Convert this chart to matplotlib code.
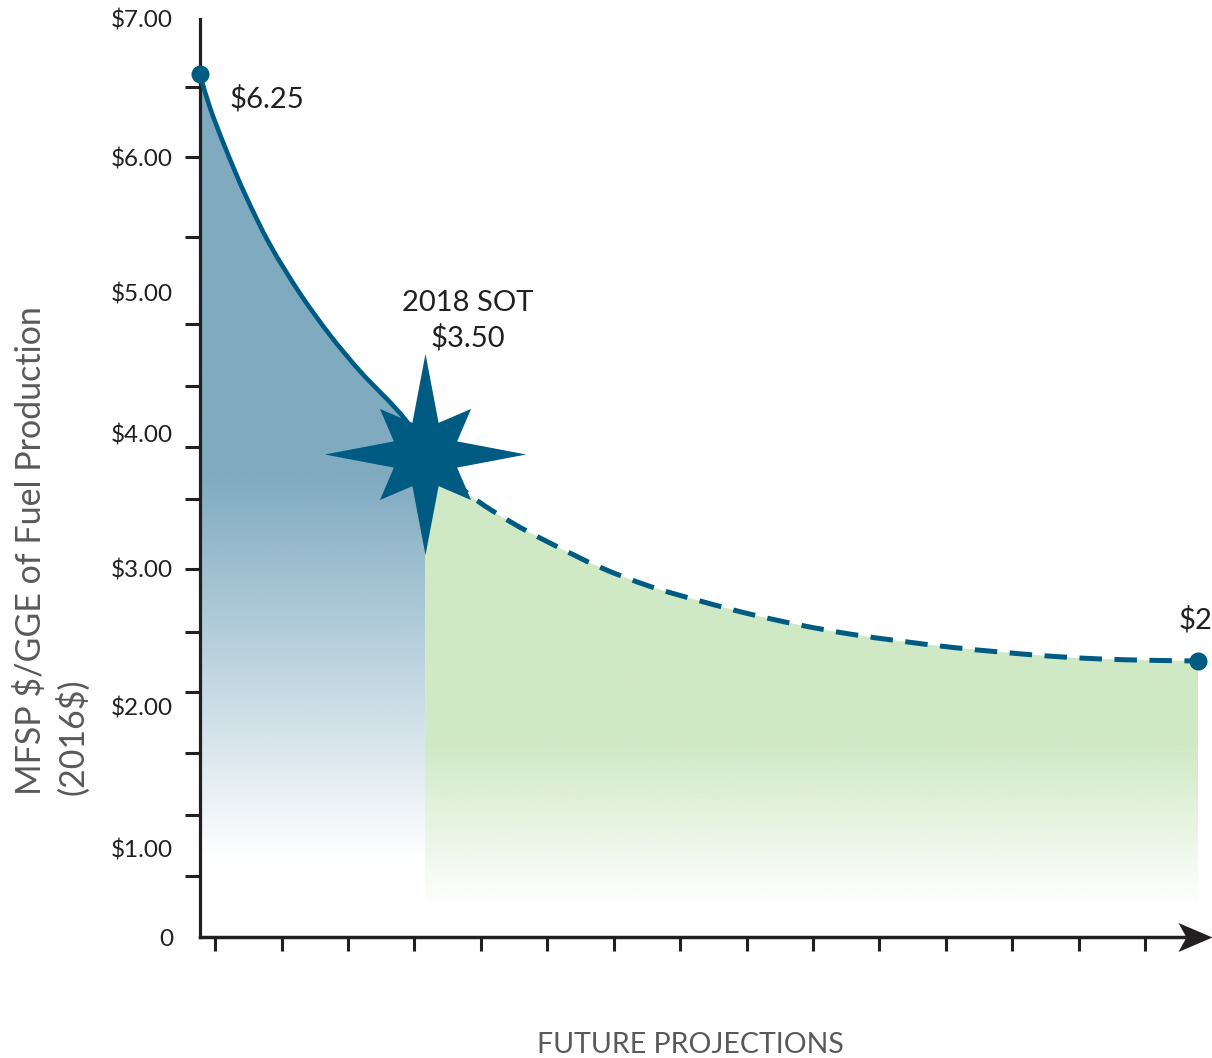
import numpy as np
import matplotlib
matplotlib.use("Agg")
import matplotlib.pyplot as plt
from matplotlib.path import Path
from matplotlib.patches import PathPatch
from matplotlib.colors import to_rgb

plt.rcParams['font.family'] = ['Lato', 'DejaVu Sans']

# Historical cost reduction down to the 2018 state of technology (SOT)
hist_x = [0.0, 0.15, 0.38, 0.68, 1.05, 1.51, 1.96, 2.41, 3.09, 3.39]
hist_y = [6.25, 6.01, 5.72, 5.38, 5.02, 4.66, 4.36, 4.10, 3.75, 3.50]

# Projected cost pathway after the 2018 SOT
proj_x = [3.39, 4.07, 4.67, 5.27, 6.02, 6.78, 7.53, 8.28, 9.04, 9.79,
          10.54, 11.30, 12.05, 12.80, 13.55, 14.31, 15.03]
proj_y = [3.50, 3.20, 3.01, 2.855, 2.68, 2.54, 2.435, 2.34, 2.26, 2.195,
          2.145, 2.10, 2.065, 2.035, 2.015, 2.005, 2.00]

start_label = "$6.25"
sot_label = "2018 SOT\n$3.50"
end_label = "$2"

# Axis decorations
y_tick_labels = ["0", "$1.00", "$2.00", "$3.00", "$4.00", "$5.00", "$6.00", "$7.00"]
y_label_pos = [0.0, 0.64, 1.67, 2.67, 3.65, 4.67, 5.65, 6.652]
y_tick_marks = [0.0, 0.442, 0.884, 1.333, 1.775, 2.210, 2.667, 3.174, 3.551,
                3.993, 4.442, 5.072, 5.652, 6.159, 6.652]
x_tick_marks = [0.23, 1.23, 2.23, 3.23, 4.23, 5.23, 6.23, 7.23, 8.23, 9.23,
                10.23, 11.23, 12.23, 13.23, 14.23]

LINE = '#005B82'
INK = '#231F20'
GREY = '#595959'
BLUE_FILL = '#7FAAC0'
GREEN_FILL = '#D0E9C5'

W, H = 1212, 1058
fig = plt.figure(figsize=(W / 100, H / 100), dpi=100)
ax = fig.add_axes([200 / W, 121 / H, 1012 / W, 918 / H])
XMAX, YMAX = 15.24, 6.652
SX, SY = 1012 / XMAX, 918 / YMAX   # pixels per data unit


def smooth_segments(x, y):
    """Cubic Bezier vertices running smoothly through the given points."""
    p = np.column_stack([np.asarray(x) * SX, np.asarray(y) * SY])
    n = len(p)
    tang = np.zeros_like(p)
    for i in range(n):
        a = p[max(i - 1, 0)]
        b = p[min(i + 1, n - 1)]
        d = b - a
        tang[i] = d / np.hypot(*d)
    verts = [p[0]]
    for i in range(n - 1):
        L = np.hypot(*(p[i + 1] - p[i])) / 3
        verts += [p[i] + tang[i] * L, p[i + 1] - tang[i + 1] * L, p[i + 1]]
    v = np.array(verts)
    v[:, 0] /= SX
    v[:, 1] /= SY
    codes = [Path.MOVETO] + [Path.CURVE4] * (len(v) - 1)
    return v, codes


def curve_path(x, y):
    v, codes = smooth_segments(x, y)
    return Path(v, codes)


def area_path(x, y):
    v, codes = smooth_segments(x, y)
    verts = np.vstack([[x[0], 0], v, [x[-1], 0], [x[0], 0]])
    codes = [Path.MOVETO, Path.LINETO] + codes[1:] + [Path.LINETO, Path.CLOSEPOLY]
    return Path(verts, codes)


def gradient_area(x, y, color, y_solid, y_clear, zorder):
    """Fill under a curve with a colour that fades to white towards the bottom."""
    clip = PathPatch(area_path(x, y), transform=ax.transData,
                     facecolor='none', edgecolor='none')
    ax.add_patch(clip)
    n = 400
    ys = np.linspace(0, YMAX, n)
    alpha = np.clip((ys - y_clear) / (y_solid - y_clear), 0, 1)
    rgba = np.zeros((n, 1, 4))
    rgba[..., :3] = to_rgb(color)
    rgba[..., 3] = alpha[:, None]
    im = ax.imshow(rgba, extent=[x[0], x[-1], 0, YMAX], origin='lower',
                   aspect='auto', zorder=zorder, interpolation='bilinear')
    im.set_clip_path(clip)


gradient_area(hist_x, hist_y, BLUE_FILL, 3.35, 0.55, 1)
gradient_area(proj_x, proj_y, GREEN_FILL, 1.40, 0.22, 1)
ax.set_xlim(0, XMAX)
ax.set_ylim(0, YMAX)

# Curves
ax.add_patch(PathPatch(curve_path(hist_x, hist_y), facecolor='none',
                       edgecolor=LINE, lw=3.3, capstyle='round', zorder=3))
ax.add_patch(PathPatch(curve_path(proj_x, proj_y), facecolor='none',
                       edgecolor=LINE, lw=3.6, linestyle=(0, (4.5, 2.5)),
                       capstyle='butt', zorder=3))

# End points
ax.plot([hist_x[0], proj_x[-1]], [hist_y[0], proj_y[-1]], 'o', color=LINE,
        ms=13, mew=0, zorder=5, clip_on=False)

# Eight-point star marking the 2018 SOT
star = []
for k in range(16):
    ang = np.pi / 2 - k * np.pi / 8
    r = 1.0 if k % 4 == 0 else (0.64 if k % 2 == 0 else 0.34)
    star.append((r * np.cos(ang), r * np.sin(ang)))
star.append(star[0])
star_marker = Path(np.array(star), closed=True)
ax.plot([hist_x[-1]], [hist_y[-1]], marker=star_marker, ms=145, color=LINE,
        mew=0, zorder=4, clip_on=False)

# Annotations
ax.annotate(start_label, (hist_x[0], hist_y[0]), xytext=(30, -24),
            textcoords='offset pixels', ha='left', va='center', fontsize=21,
            color=INK, parse_math=False, annotation_clip=False)
ax.annotate(sot_label, (hist_x[-1], hist_y[-1]), xytext=(43, 133),
            textcoords='offset pixels', ha='center', va='center', fontsize=21,
            color=INK, linespacing=1.35, parse_math=False)
ax.annotate(end_label, (proj_x[-1], proj_y[-1]), xytext=(-20, 41),
            textcoords='offset pixels', ha='left', va='center', fontsize=21,
            color=INK, parse_math=False, annotation_clip=False)

# Axes styling
for side in ('top', 'right'):
    ax.spines[side].set_visible(False)
ax.spines['left'].set_linewidth(2.3)
ax.spines['left'].set_color(INK)
ax.spines['bottom'].set_linewidth(2.5)
ax.spines['bottom'].set_color(INK)
ax.spines['bottom'].set_bounds(0, XMAX - 0.3)

ax.set_yticks(y_label_pos, y_tick_labels)
ax.set_yticks(y_tick_marks, minor=True)
ax.tick_params(axis='y', which='major', length=0, pad=19.5, labelsize=17.5,
               labelcolor=INK)
ax.tick_params(axis='y', which='minor', length=11, width=2.2, color=INK,
               direction='out')
ax.set_xticks(x_tick_marks)
ax.set_xticklabels([])
ax.tick_params(axis='x', which='major', length=10, width=2.2, color=INK,
               direction='out')

# Arrow head at the end of the horizontal axis
arrow = Path(np.array([[0, 0], [-34, 14.5], [-26, 0], [-34, -14.5], [0, 0]]),
             closed=True)
ax.plot([XMAX], [0], marker=arrow, ms=49, color=INK, mew=0, clip_on=False,
        zorder=6)

# Axis titles
fig.text(52 / W, 1 - 795 / H, "MFSP $/GGE of Fuel Production\n(2016$)",
         rotation=90, ha='center', va='bottom', multialignment='left',
         fontsize=24.5, color=GREY, linespacing=1.3, parse_math=False)
fig.text(690 / W, 1 - 1045 / H, "FUTURE PROJECTIONS", ha='center',
         va='center', fontsize=20.5, color=GREY, parse_math=False)

fig.savefig("out.png", dpi=100)
